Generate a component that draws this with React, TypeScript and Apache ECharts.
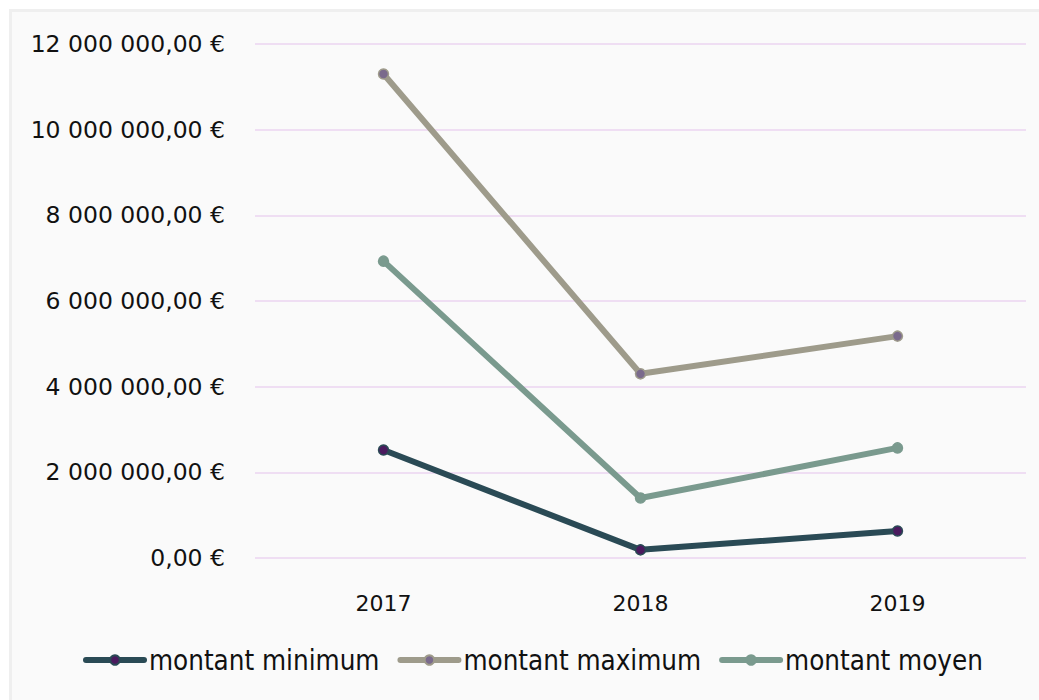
import React, { useEffect, useRef } from "react";
import * as echarts from "echarts";

const categories = ["2017", "2018", "2019"];
const minValues = [2520000, 190000, 630000];
const maxValues = [11300000, 4300000, 5180000];
const moyValues = [6930000, 1400000, 2570000];
const seriesNames = ["montant minimum", "montant maximum", "montant moyen"];

const fmt = (v: number) => {
  const s = Math.round(v).toString().replace(/\B(?=(\d{3})+(?!\d))/g, " ");
  return s + ",00 €";
};

export default function App() {
  const ref = useRef<HTMLDivElement>(null);
  useEffect(() => {
    document.body.style.margin = "0";
    const chart = echarts.init(ref.current!, null, { renderer: "svg" });
    const font = "DejaVu Sans";
    const mk = (name: string, data: number[], line: string, marker: string) => ({
      name,
      type: "line",
      data,
      symbol: "circle",
      symbolSize: 10,
      lineStyle: { color: line, width: 6, cap: "round", join: "round" },
      itemStyle: { color: marker, borderColor: line, borderWidth: 1.5 },
      emphasis: { disabled: true },
    });
    chart.setOption({
      animation: false,
      backgroundColor: "#ffffff",
      graphic: [
        {
          type: "rect",
          shape: { x: 10.5, y: 10.5, width: 1040, height: 700 },
          style: { fill: "#fafafa", stroke: "#efefef", lineWidth: 3 },
          z: -10,
        },
      ],
      grid: { left: 255, right: 13, top: 44, bottom: 142 },
      legend: {
        top: 646,
        left: 83,
        padding: 0,
        itemWidth: 58,
        itemHeight: 12,
        itemGap: 18,
        lineStyle: { width: 6, cap: "round" },
        textStyle: {
          fontFamily: "'DejaVu Sans Condensed', 'Liberation Sans Narrow', 'DejaVu Sans'",
          fontSize: 27.5,
          lineHeight: 28,
          color: "#111",
        },
        data: seriesNames,
      },
      xAxis: {
        type: "category",
        data: categories,
        boundaryGap: true,
        axisLine: { show: false },
        axisTick: { show: false },
        axisLabel: { fontFamily: font, fontSize: 22, color: "#111", margin: 34 },
      },
      yAxis: {
        type: "value",
        min: 0,
        max: 12000000,
        interval: 2000000,
        axisLine: { show: false },
        axisTick: { show: false },
        splitLine: { lineStyle: { color: "#ebd5f0", width: 1.5 } },
        axisLabel: {
          fontFamily: font,
          fontSize: 23.5,
          color: "#111",
          margin: 30,
          formatter: (v: number) => fmt(v),
        },
      },
      series: [
        mk(seriesNames[0], minValues, "#2a4a55", "#4a1a5e"),
        mk(seriesNames[1], maxValues, "#9e9b8b", "#7a6a8c"),
        mk(seriesNames[2], moyValues, "#7a9a8e", "#7a9a8e"),
      ],
    });
    return () => chart.dispose();
  }, []);
  return <div ref={ref} style={{ width: 1039, height: 700 }} />;
}
